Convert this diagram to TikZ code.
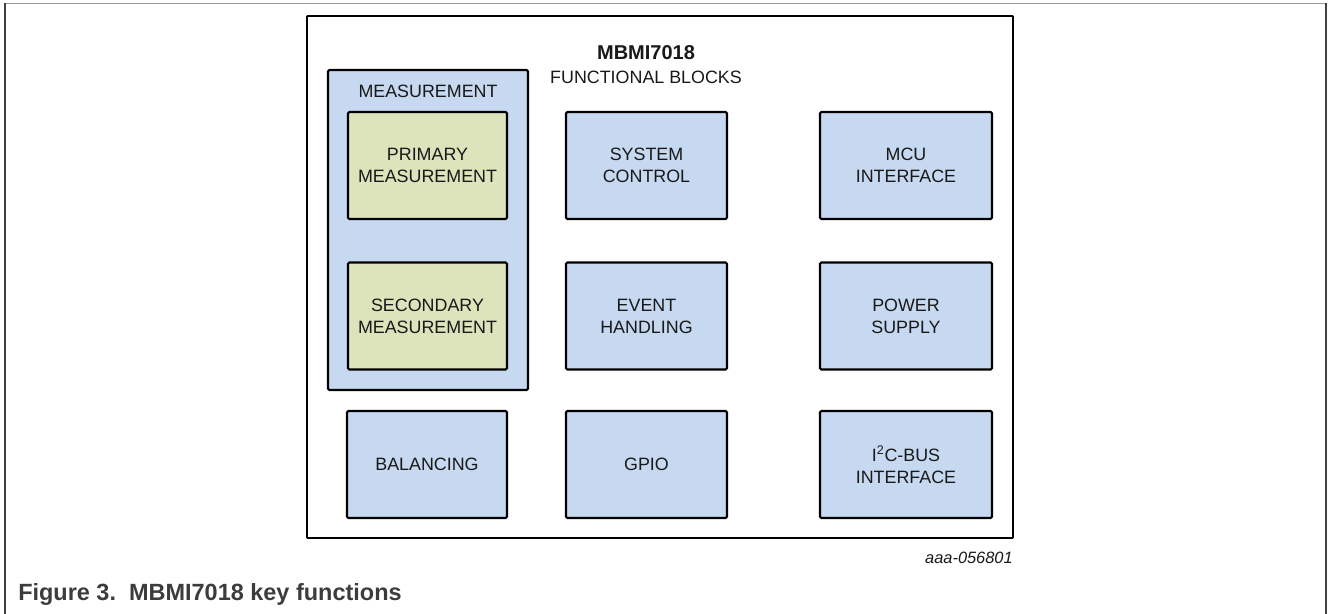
\documentclass[tikz,border=0pt]{standalone}
\usepackage{fontspec}
\setmainfont{Liberation Sans}
\definecolor{boxblue}{HTML}{C6D9F0}
\definecolor{boxgreen}{HTML}{DDE4BC}
\definecolor{captiongray}{HTML}{3C3C3C}
\begin{document}
\begin{tikzpicture}[x=0.75pt,y=-0.75pt,
  blk/.style={draw=black,line width=1.6pt,rounded corners=1pt,fill=boxblue,
    minimum width=#1*0.75pt,minimum height=107*0.75pt,inner sep=0pt,
    align=center,font=\fontsize{13.4}{16.5}\selectfont,text=black!90},
  blk/.default=161,
  sub/.style={blk=159,fill=boxgreen},
  lbl/.style={inner sep=0pt,font=\fontsize{13.4}{16.5}\selectfont,text=black!90}]
\useasboundingbox (0,0) rectangle (1328,614);
% figure border
\draw[line width=0.6pt,draw=black!40] (5,3.5) -- (1326,3.5);
\draw[line width=1.2pt,draw=black!75] (5,3) -- (5,614);
\draw[line width=1.2pt,draw=black!75] (1326,3) -- (1326,614);
% main frame
\draw[line width=1.4pt,rounded corners=0.5pt] (307,16) rectangle (1013,538);
\node[lbl,font=\fontsize{15}{18}\bfseries] (title) at (646,53) {MBMI7018};
\node[lbl] (subtitle) at (646,77) {FUNCTIONAL BLOCKS};
% measurement group
\node[blk=200,minimum height=320*0.75pt] (meas) at (428,230) {};
\node[lbl] (measlbl) at (428,91) {MEASUREMENT};
\node[sub] (prim) at (427.5,165.5) {PRIMARY\\MEASUREMENT};
\node[sub] (sec) at (427.5,316) {SECONDARY\\MEASUREMENT};
% middle column
\node[blk] (sys) at (646.5,165.5) {SYSTEM\\CONTROL};
\node[blk] (evt) at (646.5,316) {EVENT\\HANDLING};
\node[blk] (gpio) at (646.5,464.5) {GPIO};
% right column
\node[blk=172] (mcu) at (906,165.5) {MCU\\INTERFACE};
\node[blk=172] (pwr) at (906,316) {POWER\\SUPPLY};
\node[blk=172] (i2c) at (906,464.5) {I\textsuperscript{2}C-BUS\\INTERFACE};
% bottom left
\node[blk=160] (bal) at (427,464.5) {BALANCING};
% figure id and caption
\node[lbl,anchor=east,font=\fontsize{12.3}{14}\itshape] (figid) at (1013,558) {aaa-056801};
\node[inner sep=0pt,anchor=base west,text=captiongray,font=\fontsize{17.6}{20}\bfseries] (caption) at (18,600) {Figure 3.\ \ MBMI7018 key functions};
\end{tikzpicture}
\end{document}
